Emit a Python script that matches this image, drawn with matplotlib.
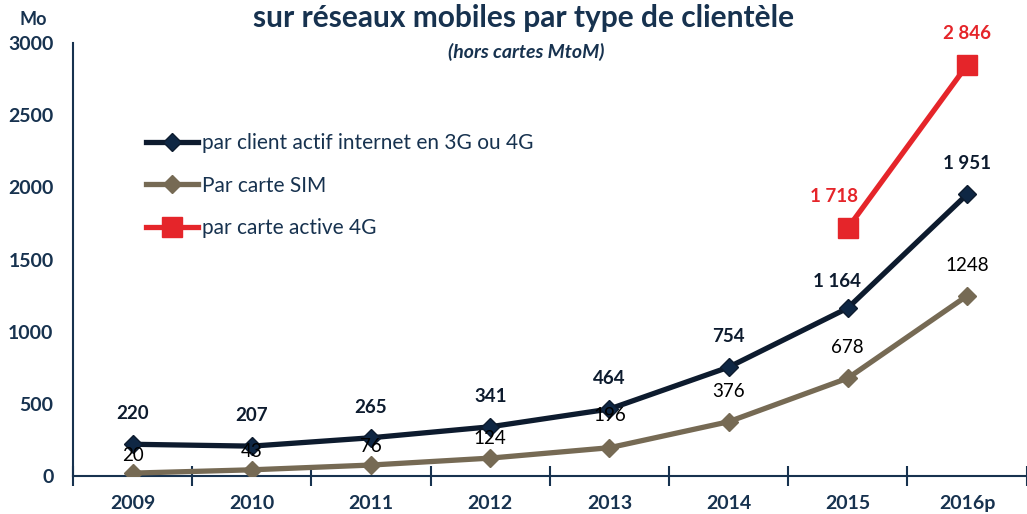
import numpy as np
import matplotlib.pyplot as plt
from matplotlib.ticker import FixedLocator

plt.rcParams['font.family'] = ['Lato', 'DejaVu Sans']

# data
years = ['2009', '2010', '2011', '2012', '2013', '2014', '2015', '2016p']
client_3g4g = [220, 207, 265, 341, 464, 754, 1164, 1951]
carte_sim = [20, 43, 76, 124, 196, 376, 678, 1248]
years_4g = ['2015', '2016p']
carte_4g = [1718, 2846]

lbl_client = ['220', '207', '265', '341', '464', '754', '1 164', '1 951']
lbl_sim = ['20', '43', '76', '124', '196', '376', '678', '1248']
lbl_4g = ['1 718', '2 846']

navy = '#0d1b2e'
brown = '#766a54'
red = '#e5252a'
txt = '#17324f'

fig = plt.figure(figsize=(10.27, 5.14), dpi=100)
ax = fig.add_axes([0.0711, 0.0739, 0.9285, 0.8424])

x = np.arange(len(years))
x4 = np.array([years.index(y) for y in years_4g])

ax.plot(x, client_3g4g, color=navy, lw=3.8, marker='D', ms=9,
        mfc='#0f2744', mec=navy, label='par client actif internet en 3G ou 4G', zorder=3)
ax.plot(x, carte_sim, color=brown, lw=3.8, marker='D', ms=9,
        mfc=brown, mec=brown, label='Par carte SIM', zorder=3)
ax.plot(x4, carte_4g, color=red, lw=3.8, marker='s', ms=14,
        mfc=red, mec=red, label='par carte active 4G', zorder=3)

# label offsets in points (excel moved the small ones closer to the line)
off_client = [(0, 22)] * 6 + [(-8, 19), (0, 22)]
off_sim = [(0, 13), (0, 13), (0, 13), (0, 14), (0, 23), (0, 22), (0, 22), (0, 22)]

for i, v in enumerate(client_3g4g):
    ax.annotate(lbl_client[i], (x[i], v), xytext=off_client[i], textcoords='offset points',
                ha='center', va='center', fontsize=13.5, fontweight='bold', color=navy)
for i, v in enumerate(carte_sim):
    ax.annotate(lbl_sim[i], (x[i], v), xytext=off_sim[i], textcoords='offset points',
                ha='center', va='center', fontsize=13.5, color='black', zorder=4)
for i, v in enumerate(carte_4g):
    dx = -10 if i == 0 else 0
    ax.annotate(lbl_4g[i], (x4[i], v), xytext=(dx, 23), textcoords='offset points',
                ha='center', va='center', fontsize=13.5, fontweight='bold', color=red)

ax.set_xlim(-0.5, len(years) - 0.5)
ax.set_ylim(0, 3000)
ax.set_yticks(np.arange(0, 3001, 500))
ax.set_xticks(x)
ax.set_xticklabels(years)
ax.xaxis.set_minor_locator(FixedLocator(np.arange(-0.5, len(years), 1)))
ax.tick_params(axis='x', which='major', length=0, pad=14, labelsize=14, labelcolor=txt)
ax.tick_params(axis='x', which='minor', direction='inout', length=14, width=1.5, color=txt)
ax.tick_params(axis='y', length=0, pad=14, labelsize=14, labelcolor=txt)
for lab in ax.get_xticklabels() + ax.get_yticklabels():
    lab.set_fontweight('bold')

for s in ['top', 'right']:
    ax.spines[s].set_visible(False)
ax.spines['left'].set_color(txt)
ax.spines['bottom'].set_color(txt)
ax.spines['left'].set_linewidth(1.5)
ax.spines['bottom'].set_linewidth(1.5)

fig.text(0.032, 0.963, 'Mo', fontsize=13, fontweight='bold', color=txt, ha='center', va='center')
fig.text(0.51, 0.965, 'sur réseaux mobiles par type de clientèle', fontsize=21.5,
         fontweight='bold', color=txt, ha='center', va='center')
fig.text(0.512, 0.898, '(hors cartes MtoM)', fontsize=14, fontweight='bold',
         style='italic', color=txt, ha='center', va='center')

leg = ax.legend(loc='upper left', bbox_to_anchor=(0.057, 0.835), frameon=False,
                fontsize=15, handlelength=2.5, labelspacing=1.08, handletextpad=0.2)
for t in leg.get_texts():
    t.set_color(txt)

fig.savefig('out.png', dpi=100)
